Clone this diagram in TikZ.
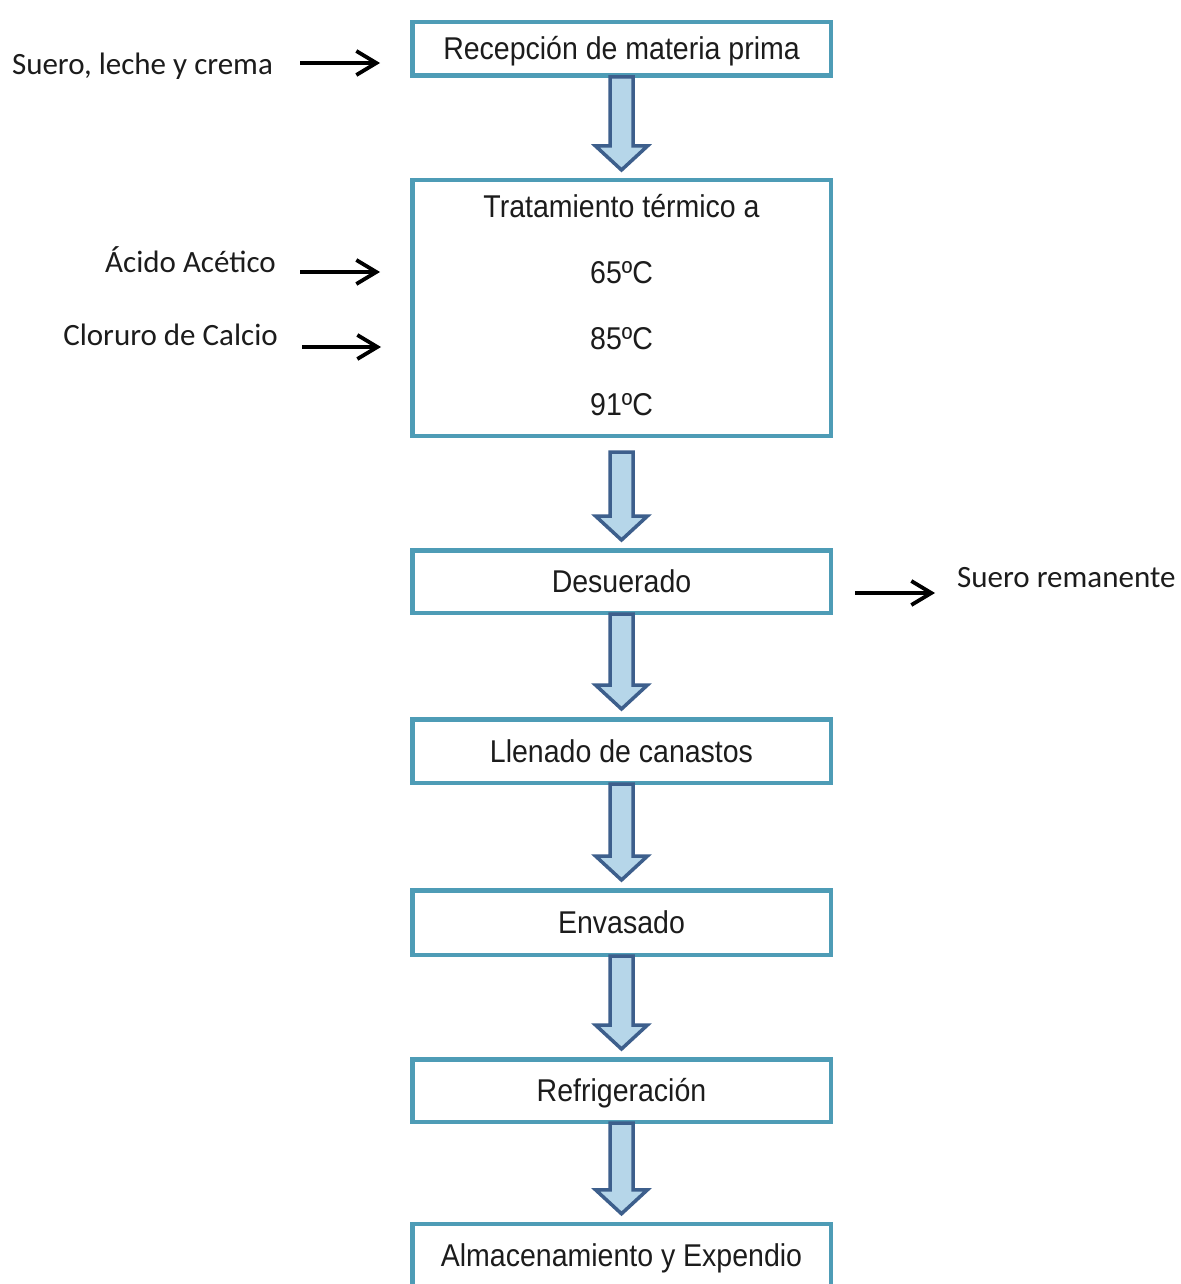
\documentclass[tikz,border=0pt]{standalone}
\usepackage{fontspec}
\setmainfont{Liberation Sans}[FakeStretch=0.905]
\newfontfamily\calibri{Carlito}
\usetikzlibrary{arrows.meta,calc}

\definecolor{boxline}{HTML}{4E9CB6}
\definecolor{flechaline}{HTML}{3D5F8C}
\definecolor{flechafill}{HTML}{B6D6E9}
\definecolor{texto}{HTML}{1C1C1C}

\tikzset{
  etapa/.style={draw=boxline, line width=4.5pt, fill=white, minimum width=418.5pt,
    inner sep=0pt, text=texto, font=\fontsize{31.5}{66}\selectfont},
  unalinea/.style={text height=22pt, text depth=0pt},
  insumo/.style={inner sep=0pt, text=texto, font=\calibri\fontsize{31}{36}\selectfont},
  flechita/.style={-{Straight Barb[length=20pt,width=24pt]}, line width=3.8pt, black},
  flechota/.style={draw=flechaline, fill=flechafill, line width=3.5pt, line join=miter},
}

% fat arrow between two stages (optional gap below the upper box)
\newcommand{\bajada}[3][0pt]{%
  \draw[flechota] let \p1=(#2.south), \p2=(#3.north), \n1={\y2+8pt}, \n2={\y2+32pt} in
    ({\x1-11.5pt},{\y1+1pt-#1}) -- ({\x1+11.5pt},{\y1+1pt-#1}) -- ({\x1+11.5pt},\n2)
    -- ({\x1+26pt},\n2) -- ({\x1},\n1) -- ({\x1-26pt},\n2) -- ({\x1-11.5pt},\n2) -- cycle;
}

\begin{document}
\begin{tikzpicture}[x=1pt, y=-1pt]

\fill[white] (0,0) rectangle (1180,1284);
\useasboundingbox (0,0) rectangle (1180,1284);

% Process stages
\node[etapa, unalinea, minimum height=53.5pt] (recepcion) at (621.5,49) {Recepción de materia prima};
\node[etapa, align=center, text height=214pt, text depth=0pt, minimum height=255.5pt] (tratamiento) at (621.5,308)
  {Tratamiento térmico a\\65ºC\\85ºC\\91ºC};
\node[etapa, unalinea, minimum height=62.5pt] (desuerado) at (621.5,581.5) {Desuerado};
\node[etapa, unalinea, minimum height=63.5pt] (llenado) at (621.5,751) {Llenado de canastos};
\node[etapa, unalinea, minimum height=64.5pt] (envasado) at (621.5,922.5) {Envasado};
\node[etapa, unalinea, minimum height=62.5pt] (refrigeracion) at (621.5,1090.5) {Refrigeración};
\node[etapa, unalinea, minimum height=62pt] (almacenamiento) at (621.5,1255) {Almacenamiento y Expendio};

% Flow between stages
\bajada{recepcion}{tratamiento}
\bajada[15pt]{tratamiento}{desuerado}
\bajada{desuerado}{llenado}
\bajada{llenado}{envasado}
\bajada{envasado}{refrigeracion}
\bajada{refrigeracion}{almacenamiento}

% Inputs
\node[insumo, anchor=base east] (suero) at (273,75) {Suero, leche y crema};
\node[insumo, anchor=base east] (acido) at (276,272) {Ácido Acético};
\node[insumo, anchor=base east] (cloruro) at (278,345) {Cloruro de Calcio};
\coordinate (pSuero) at (300,63);
\coordinate (pAcido) at (300,272);
\coordinate (pCloruro) at (302,347);
\draw[flechita, shorten >=30pt] (pSuero) -- (pSuero -| recepcion.west);
\draw[flechita, shorten >=30pt] (pAcido) -- (pAcido -| tratamiento.west);
\draw[flechita, shorten >=29pt] (pCloruro) -- (pCloruro -| tratamiento.west);

% Output
\node[insumo, anchor=base west] (remanente) at (957,587) {Suero remanente};
\coordinate (pRemanente) at (935,593);
\draw[flechita, shorten <=22pt] (pRemanente -| desuerado.east) -- (pRemanente);

\end{tikzpicture}
\end{document}
